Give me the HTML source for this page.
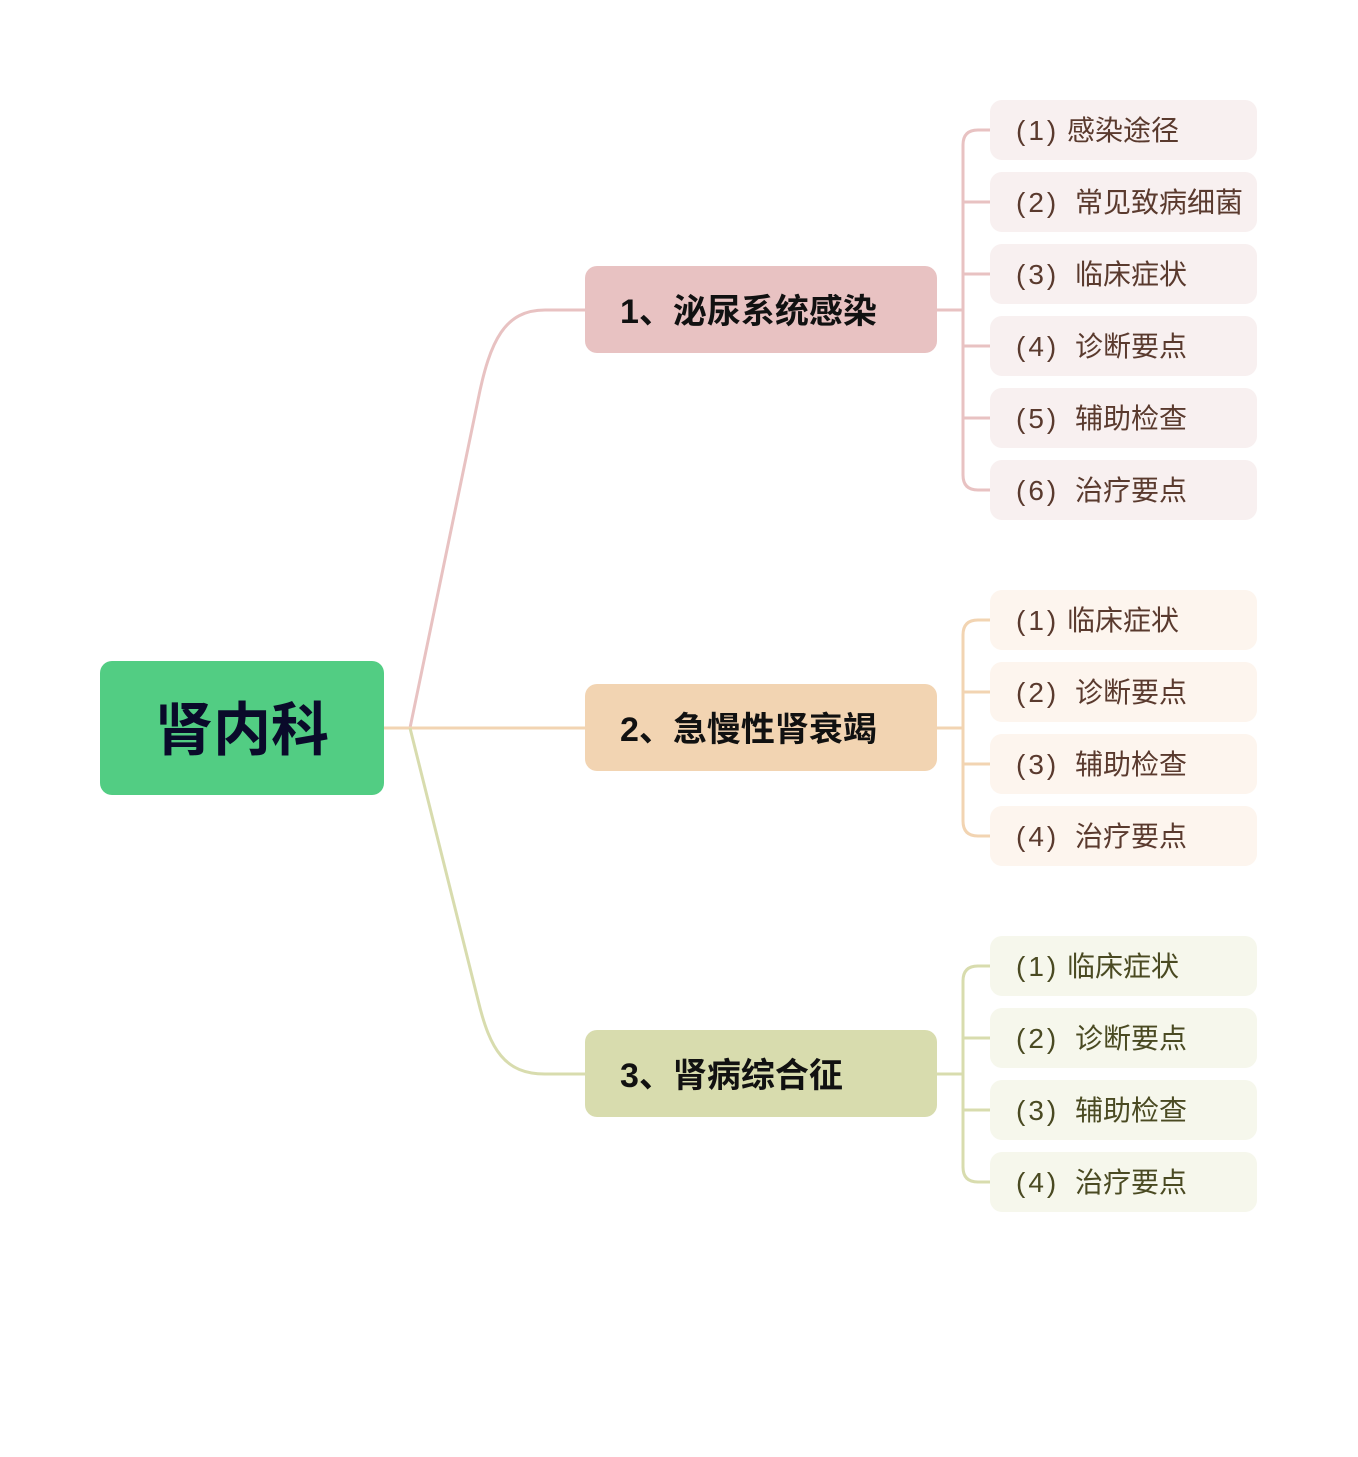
<!DOCTYPE html>
<html><head><meta charset="utf-8"><style>
html,body{margin:0;padding:0;background:#fff;}
svg text{font-family:"Liberation Sans","Noto Sans CJK SC",sans-serif;}
.p{letter-spacing:3px;}
</style></head><body>
<svg width="1358" height="1452" viewBox="0 0 1358 1452" xmlns="http://www.w3.org/2000/svg">
<rect width="1358" height="1452" fill="#fff"/>
<g fill="none" stroke-width="3">
<path d="M384 728 L410 728 L478 400 C490 340 505 310 545 310 L585 310" stroke="#e8c2c2"/>
<path d="M384 728 L585 728" stroke="#f2d4b2"/>
<path d="M410 728 L478 1000 C490 1050 505 1074 545 1074 L585 1074" stroke="#d8dcae"/>
<g stroke="#e8c2c2">
<path d="M937 310 L963 310"/>
<path d="M990 130 L978 130 Q963 130 963 145 L963 475 Q963 490 978 490 L990 490"/>
<path d="M963 202 L990 202 M963 274 L990 274 M963 346 L990 346 M963 418 L990 418"/>
</g>
<g stroke="#f2d4b2">
<path d="M937 728 L963 728"/>
<path d="M990 620 L978 620 Q963 620 963 635 L963 821 Q963 836 978 836 L990 836"/>
<path d="M963 692 L990 692 M963 764 L990 764"/>
</g>
<g stroke="#d8dcae">
<path d="M937 1074 L963 1074"/>
<path d="M990 966 L978 966 Q963 966 963 981 L963 1167 Q963 1182 978 1182 L990 1182"/>
<path d="M963 1038 L990 1038 M963 1110 L990 1110"/>
</g>
</g>
<rect x="100" y="661" width="284" height="134" rx="12" fill="#52cd83"/>
<text x="242" y="750" font-size="58" font-weight="bold" fill="#0a0a2a" text-anchor="middle">肾内科</text>
<rect x="585" y="266" width="352" height="87" rx="12" fill="#e8c2c2"/>
<text x="620" y="323" font-size="34" font-weight="bold" fill="#111">1、泌尿系统感染</text>
<rect x="585" y="684" width="352" height="87" rx="12" fill="#f2d4b2"/>
<text x="620" y="741" font-size="34" font-weight="bold" fill="#111">2、急慢性肾衰竭</text>
<rect x="585" y="1030" width="352" height="87" rx="12" fill="#d8dcae"/>
<text x="620" y="1087" font-size="34" font-weight="bold" fill="#111">3、肾病综合征</text>
<g font-size="28" fill="#5a3a2e">
<rect x="990" y="100" width="267" height="60" rx="12" fill="#f8f0f0"/><text class="p" x="1016" y="140">(1)</text><text x="1067" y="140">感染途径</text>
<rect x="990" y="172" width="267" height="60" rx="12" fill="#f8f0f0"/><text class="p" x="1016" y="212">(2)</text><text x="1075" y="212">常见致病细菌</text>
<rect x="990" y="244" width="267" height="60" rx="12" fill="#f8f0f0"/><text class="p" x="1016" y="284">(3)</text><text x="1075" y="284">临床症状</text>
<rect x="990" y="316" width="267" height="60" rx="12" fill="#f8f0f0"/><text class="p" x="1016" y="356">(4)</text><text x="1075" y="356">诊断要点</text>
<rect x="990" y="388" width="267" height="60" rx="12" fill="#f8f0f0"/><text class="p" x="1016" y="428">(5)</text><text x="1075" y="428">辅助检查</text>
<rect x="990" y="460" width="267" height="60" rx="12" fill="#f8f0f0"/><text class="p" x="1016" y="500">(6)</text><text x="1075" y="500">治疗要点</text>
<rect x="990" y="590" width="267" height="60" rx="12" fill="#fdf5ee"/><text class="p" x="1016" y="630">(1)</text><text x="1067" y="630">临床症状</text>
<rect x="990" y="662" width="267" height="60" rx="12" fill="#fdf5ee"/><text class="p" x="1016" y="702">(2)</text><text x="1075" y="702">诊断要点</text>
<rect x="990" y="734" width="267" height="60" rx="12" fill="#fdf5ee"/><text class="p" x="1016" y="774">(3)</text><text x="1075" y="774">辅助检查</text>
<rect x="990" y="806" width="267" height="60" rx="12" fill="#fdf5ee"/><text class="p" x="1016" y="846">(4)</text><text x="1075" y="846">治疗要点</text>
</g>
<g font-size="28" fill="#4a4a22">
<rect x="990" y="936" width="267" height="60" rx="12" fill="#f6f7ec"/><text class="p" x="1016" y="976">(1)</text><text x="1067" y="976">临床症状</text>
<rect x="990" y="1008" width="267" height="60" rx="12" fill="#f6f7ec"/><text class="p" x="1016" y="1048">(2)</text><text x="1075" y="1048">诊断要点</text>
<rect x="990" y="1080" width="267" height="60" rx="12" fill="#f6f7ec"/><text class="p" x="1016" y="1120">(3)</text><text x="1075" y="1120">辅助检查</text>
<rect x="990" y="1152" width="267" height="60" rx="12" fill="#f6f7ec"/><text class="p" x="1016" y="1192">(4)</text><text x="1075" y="1192">治疗要点</text>
</g>
</svg>
</body></html>
